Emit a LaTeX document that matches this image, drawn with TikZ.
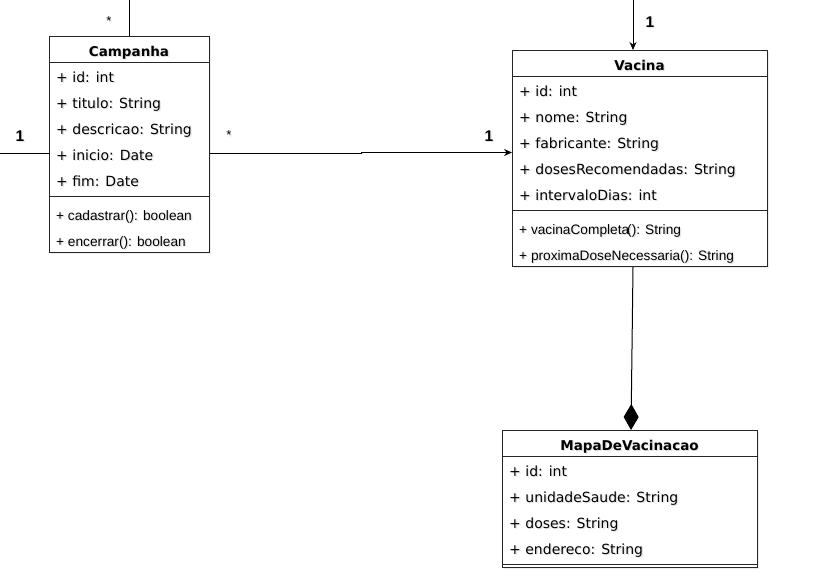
\documentclass[tikz,border=0pt]{standalone}
\usepackage{fontspec}
\setmainfont{DejaVu Sans}
\newfontfamily\methfont{Liberation Sans}
\usetikzlibrary{arrows.meta,shadows}
% a text label with a soft grey shadow behind it
\newcommand\shlabel[5]{%
  \node[#1,text=black!60,opacity=0.18] at ($(#3)+(1.3,1.6)$) {#5};
  \node[#1] (#2) at (#3) {#5};}
\usetikzlibrary{calc}
\begin{document}
\begin{tikzpicture}[x=1pt,y=-1pt,
  classbox/.style={draw=black!85,line width=1pt,fill=white,inner sep=0pt,anchor=north west,
    drop shadow={shadow xshift=1.5pt,shadow yshift=-1.5pt,opacity=0.15}},
  rule/.style={draw=black!85,line width=1pt},
  attr/.style={anchor=base west,inner sep=0pt,font=\fontsize{14}{16}\selectfont},
  meth/.style={anchor=base west,inner sep=0pt,font=\methfont\fontsize{13.7}{16}\selectfont},
  title/.style={anchor=base,inner sep=0pt,font=\bfseries\fontsize{13.5}{16}\selectfont},
  mult/.style={inner sep=0pt,font=\methfont\bfseries\fontsize{15.5}{17}\selectfont},
  star/.style={inner sep=0pt,font=\methfont\fontsize{13}{14}\selectfont},
  link/.style={draw=black,line width=1pt}]
\useasboundingbox (0,0) rectangle (827,582);
\fill[white] (0,0) rectangle (827,582);

% Campanha
\node[classbox,minimum width=160pt,minimum height=216pt] (camp) at (49,36) {};
\draw[rule] (49,62) -- (209,62);
\draw[rule] (49,196.5) -- (209,196.5);
\shlabel{title}{campT}{129,56}{}{Campanha}
\shlabel{attr}{c1}{56,82}{}{+ id: int}
\shlabel{attr}{c2}{56,108}{}{+ titulo: String}
\shlabel{attr}{c3}{56,134}{}{+ descricao: String}
\shlabel{attr}{c4}{56,160}{}{+ inicio: Date}
\shlabel{attr}{c5}{56,186}{}{+ fim: Date}
\shlabel{meth}{c6}{56,220}{}{+ cadastrar(): boolean}
\shlabel{meth}{c7}{56,246}{}{+ encerrar(): boolean}

% Vacina
\node[classbox,minimum width=255pt,minimum height=216pt] (vac) at (512,50) {};
\draw[rule] (512,76) -- (767,76);
\draw[rule] (512,210.5) -- (767,210.5);
\shlabel{title}{vacT}{639.5,70}{}{Vacina}
\shlabel{attr}{v1}{519,96}{}{+ id: int}
\shlabel{attr}{v2}{519,122}{}{+ nome: String}
\shlabel{attr}{v3}{519,148}{}{+ fabricante: String}
\shlabel{attr}{v4}{519,174}{}{+ dosesRecomendadas: String}
\shlabel{attr}{v5}{519,200}{}{+ intervaloDias: int}
\shlabel{meth}{v6}{519,234}{}{+ vacinaCompleta\kern-2pt(): String}
\shlabel{meth}{v7}{519,260}{}{+ proximaDoseNecessaria(): String}

% MapaDeVacinacao
\node[classbox,minimum width=255pt,minimum height=137pt] (mapa) at (502,430) {};
\draw[rule] (502,456) -- (757,456);
\draw[rule] (502,564) -- (757,564);
\shlabel{title}{mapaT}{629.5,450}{}{MapaDeVacinacao}
\shlabel{attr}{m1}{509,476}{}{+ id: int}
\shlabel{attr}{m2}{509,502}{}{+ unidadeSaude: String}
\shlabel{attr}{m3}{509,528}{}{+ doses: String}
\shlabel{attr}{m4}{509,554}{}{+ endereco: String}

% loose ends of associations leaving the picture
\coordinate (topC) at (129,0);
\coordinate (leftC) at (0,153.5);
\coordinate (topV) at (633,0);
\coordinate (bend) at (361,153.5);

% associations
\draw[link] (camp.north -| topC) -- (topC);
\draw[link] (leftC) -- (camp.west |- leftC);
\draw[link,-{Stealth[length=8pt,width=7pt]}] (camp.east |- bend) -- (bend) -- ++(0,-1) -- (vac.west |- 0,152.5);
\draw[link,-{Stealth[length=8pt,width=7pt]}] (topV) -- (vac.north -| topV);
\draw[link,-{Diamond[length=26pt,width=15pt]}] (vac.south -| topV) -- (631,430);

% multiplicities
\shlabel{star}{s1}{109,21}{}{*}
\shlabel{mult}{n1}{20,136}{}{1}
\shlabel{star}{s2}{229,135}{}{*}
\shlabel{mult}{n2}{489,136}{}{1}
\shlabel{mult}{n3}{650,22}{}{1}
\end{tikzpicture}
\end{document}
